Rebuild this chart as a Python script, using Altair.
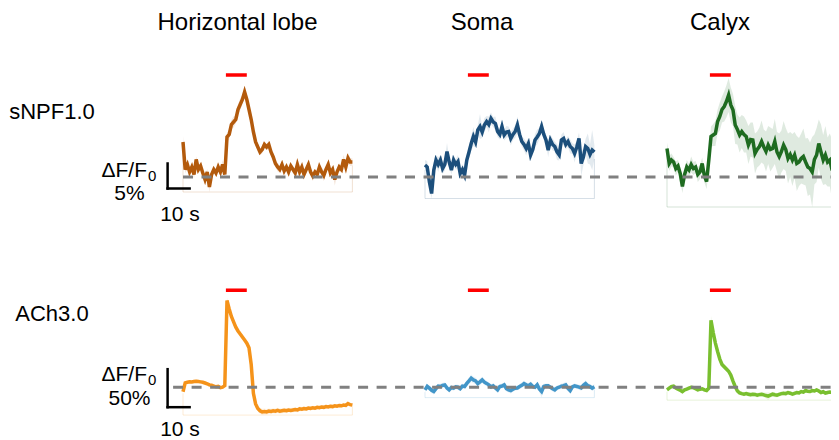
import altair as alt
import pandas as pd

# ---------------- data ----------------
time_s = list(range(78))
stim_on_s, stim_off_s = 19.5, 29.0

row_labels = ["sNPF1.0", "ACh3.0"]
region_labels = ["Horizontal lobe", "Soma", "Calyx"]

hl_snpf_mean = [
    7.0, 1.5, 2.5, 1.0, 2.0, 0.5, 3.5, 1.5, 2.2, 0.8,
    -0.5, 1.0, -2.0, 0.5, 1.5, 0.8, 2.0, 1.0, 2.5, 0.5,
    8.0, 8.5, 10.5, 11.0, 11.5, 13.5, 14.5, 15.5, 17.0, 15.5,
    13.5, 11.5, 9.0, 7.0, 6.0, 5.0, 5.5, 6.5, 6.0, 6.5,
    5.0, 4.0, 2.7, 2.0, 1.5, 2.5, 1.2, 2.0, 1.0, 2.2,
    1.5, 0.8, 2.5, 1.0, 2.0, 0.5, 1.5, 2.5, 1.0, 0.2,
    1.0, 0.5, 2.0, 1.0, 0.3, 1.5, 2.5, 0.8, 1.5, -0.5,
    1.0, 2.0, 1.5, 3.5, 2.0, 3.8, 3.0, 3.0]
hl_snpf_sem = [
    1.2, 0.8, 0.6, 0.7, 0.5, 0.8, 0.6, 0.9, 0.5, 0.7,
    0.8, 0.6, 1.0, 0.7, 0.5, 0.8, 0.6, 0.7, 0.9, 0.6,
    0.8, 1.0, 0.9, 1.1, 0.8, 1.0, 1.2, 0.9, 1.3, 1.0,
    0.9, 1.1, 0.8, 0.7, 0.9, 0.6, 0.8, 0.7, 0.6, 0.9,
    0.7, 0.8, 0.6, 0.9, 0.7, 0.6, 0.8, 0.7, 0.9, 0.6,
    0.7, 0.8, 1.0, 0.6, 0.7, 0.9, 0.6, 0.8, 0.7, 1.0,
    0.6, 0.8, 0.7, 0.9, 1.1, 0.7, 0.6, 0.8, 0.9, 1.2,
    0.7, 0.8, 0.6, 0.9, 0.7, 1.0, 0.8, 0.7]

soma_snpf_mean = [
    2.4, 2.0, -1.0, -3.3, 1.4, 3.4, 2.5, 3.4, 1.7, 2.5,
    5.1, 3.0, 1.4, 3.4, 2.5, 3.1, 0.7, 1.5, 0.4, 3.4,
    5.0, 6.7, 8.1, 7.0, 9.4, 10.1, 9.0, 10.4, 11.1, 10.5,
    11.7, 11.0, 10.7, 9.1, 8.5, 10.1, 8.4, 9.0, 9.1, 7.7,
    8.5, 9.1, 10.4, 8.5, 7.1, 6.5, 5.7, 6.7, 4.4, 5.5,
    7.4, 8.0, 8.7, 10.1, 8.5, 7.4, 5.4, 7.4, 6.5, 6.1,
    5.0, 4.4, 7.4, 7.7, 6.5, 7.1, 6.1, 5.7, 4.7, 6.0,
    7.7, 2.7, 4.0, 6.1, 5.7, 4.5, 5.4, 5.0]
soma_snpf_sem = [
    1.0, 1.2, 1.4, 1.0, 0.8, 1.0, 1.5, 0.9, 1.1, 1.2,
    1.7, 1.0, 0.9, 1.1, 1.0, 1.3, 0.9, 1.1, 1.2, 1.0,
    1.3, 1.5, 1.9, 1.1, 1.0, 2.5, 1.2, 1.4, 1.1, 1.6,
    1.2, 1.0, 1.4, 1.1, 1.0, 1.5, 1.1, 1.2, 1.0, 1.4,
    1.1, 1.3, 1.7, 1.1, 1.0, 1.2, 1.4, 1.1, 1.1, 1.0,
    1.2, 1.5, 1.1, 1.3, 1.0, 1.1, 1.4, 1.1, 1.2, 1.0,
    1.6, 1.1, 1.1, 1.3, 1.0, 1.1, 1.4, 1.1, 1.8, 1.2,
    1.2, 2.5, 1.7, 1.5, 3.0, 2.0, 4.0, 1.4]

calyx_snpf_mean = [
    5.7, 2.7, 3.4, 3.0, 1.7, 2.2, 0.7, -1.9, 0.5, 2.0,
    1.4, 2.5, 1.7, 2.0, 0.5, 1.0, 2.7, 0.2, -0.9, 3.4,
    8.1, 8.4, 8.7, 11.1, 12.1, 13.5, 14.1, 15.1, 16.4, 14.4,
    13.4, 10.4, 9.5, 8.4, 9.1, 8.5, 8.1, 6.4, 7.5, 7.4,
    4.7, 5.5, 6.1, 7.1, 6.0, 5.1, 6.4, 5.5, 5.7, 7.1,
    5.0, 4.1, 5.1, 6.4, 5.5, 3.7, 4.5, 3.4, 4.4, 2.7,
    3.0, 3.7, 4.1, 3.0, 2.0, 1.7, 1.0, 3.5, 4.4, 6.7,
    5.0, 3.4, 4.4, 3.0, 3.4, 1.5, 0.7, 2.7]
calyx_snpf_sem = [
    1.2, 1.5, 1.3, 1.0, 1.4, 1.2, 1.5, 1.3, 1.1, 1.4,
    1.2, 1.6, 1.3, 1.2, 1.5, 1.4, 1.2, 1.3, 1.5, 1.8,
    2.0, 2.2, 2.5, 2.4, 2.8, 2.6, 3.0, 3.2, 3.4, 3.5,
    3.2, 3.8, 3.0, 3.5, 3.3, 3.6, 3.2, 3.8, 3.4, 3.5,
    4.0, 3.6, 3.8, 4.2, 3.5, 4.0, 3.8, 4.4, 3.9, 4.5,
    4.0, 4.6, 4.2, 4.8, 4.3, 5.0, 4.5, 5.2, 4.6, 5.5,
    4.8, 5.0, 5.6, 4.7, 5.8, 5.2, 7.0, 5.0, 5.4, 4.8,
    5.5, 5.0, 5.8, 4.9, 5.3, 6.0, 5.2, 5.5]

hl_ach_mean = [
    -6.0, 5.7, 6.5, 7.0, 6.8, 7.5, 7.9, 7.5, 7.0, 6.5,
    5.5, 4.5, 3.0, 2.5, 1.5, 0.5, 1.0, -0.5, 0.0, 2.0,
    114.0, 103.0, 93.0, 86.0, 79.0, 74.0, 70.0, 66.0, 62.0, 58.0,
    52.0, 30.0, -8.0, -22.0, -28.0, -31.0, -32.5, -32.0, -32.5, -31.5,
    -32.0, -31.0, -31.5, -30.5, -31.5, -31.0, -30.5, -31.0, -30.0, -30.5,
    -30.0, -29.5, -30.0, -28.5, -29.0, -28.0, -28.5, -27.5, -28.0, -27.0,
    -27.5, -26.5, -27.0, -26.0, -26.5, -25.5, -26.0, -25.0, -25.5, -24.5,
    -25.0, -24.0, -24.5, -23.5, -24.0, -21.5, -23.0, -23.5]
hl_ach_sem = [
    2.0, 2.5, 2.0, 2.2, 2.0, 2.4, 2.1, 2.0, 2.3, 2.0,
    2.2, 2.0, 2.4, 2.1, 2.0, 2.3, 2.0, 2.2, 2.0, 2.5,
    4.0, 3.5, 3.2, 3.0, 3.0, 2.8, 2.8, 2.6, 2.6, 2.5,
    2.8, 3.5, 3.0, 3.2, 3.5, 3.8, 4.2, 4.0, 3.8, 3.6,
    3.5, 3.4, 3.5, 3.3, 3.4, 3.2, 3.3, 3.2, 3.0, 3.1,
    3.0, 3.1, 2.9, 3.0, 2.8, 2.9, 2.8, 2.7, 2.8, 2.6,
    2.7, 2.6, 2.5, 2.6, 2.5, 2.6, 2.4, 2.5, 2.4, 2.5,
    2.4, 2.3, 2.4, 2.3, 2.4, 2.5, 2.3, 2.4]

soma_ach_mean = [
    -3.5, 1.0, -1.3, -4.0, -5.7, -2.0, 1.5, 0.9, 2.5, 3.1,
    -1.0, -3.5, -0.5, -1.3, 0.5, 0.0, -2.0, 1.5, 0.9, 5.0,
    8.3, 11.8, 9.5, 8.3, 4.8, 7.0, 9.6, 6.6, 5.0, 3.1,
    0.5, 1.8, -1.0, -3.5, 0.9, 1.5, 3.1, -2.0, -3.5, -4.4,
    -2.6, -1.3, -1.0, 0.9, 2.5, 4.8, 3.1, 2.0, 3.9, 1.0,
    0.0, 3.1, -2.5, -5.7, 0.9, 1.8, 1.8, 0.0, -2.0, -3.5,
    -1.0, 0.0, 1.5, 2.0, 3.1, -1.5, -4.4, 0.5, 1.8, 1.0,
    0.0, -1.0, 2.5, 4.8, 2.0, 0.9, -1.3, 0.5]
soma_ach_sem = [
    3.0, 3.5, 3.2, 3.8, 4.0, 3.4, 3.0, 3.6, 3.2, 3.5,
    3.3, 3.8, 3.1, 3.4, 3.0, 3.6, 3.2, 3.5, 3.0, 4.0,
    4.5, 5.0, 4.2, 4.4, 4.0, 4.6, 4.2, 3.8, 3.6, 3.5,
    3.4, 3.6, 3.2, 3.8, 3.3, 3.5, 3.0, 3.6, 3.4, 3.8,
    3.2, 3.5, 3.0, 3.4, 3.6, 4.0, 3.5, 3.2, 3.8, 3.4,
    3.0, 3.6, 4.5, 8.0, 3.5, 3.2, 3.4, 3.0, 3.6, 3.8,
    3.2, 3.0, 3.4, 3.6, 4.0, 3.5, 4.2, 3.2, 3.5, 3.0,
    3.4, 3.6, 3.8, 4.5, 3.5, 3.2, 3.6, 3.4]

calyx_ach_mean = [
    -3.5, -1.3, 0.9, 1.5, -1.0, -2.6, -4.0, -5.7, -3.5, -2.6,
    -1.3, 0.0, -0.5, -2.0, -3.5, -2.6, -2.0, -3.5, -4.4, -1.3,
    88.0, 72.0, 58.0, 47.0, 37.0, 30.0, 27.0, 24.0, 21.0, 16.0,
    8.0, 1.0, -5.0, -7.5, -8.5, -9.2, -8.5, -9.2, -10.0, -9.2,
    -9.5, -10.5, -9.8, -9.2, -10.0, -11.0, -11.8, -10.5, -9.2, -10.0,
    -10.5, -9.5, -8.5, -7.9, -8.5, -7.0, -7.9, -9.2, -8.0, -7.0,
    -7.5, -5.7, -6.5, -4.4, -5.5, -5.7, -4.5, -5.0, -3.5, -5.0,
    -7.0, -6.0, -7.9, -7.0, -6.5, -7.0, -7.9, -7.5]
calyx_ach_sem = [
    2.5, 2.8, 2.4, 2.6, 2.5, 2.7, 2.4, 2.8, 2.5, 2.6,
    2.4, 2.7, 2.5, 2.6, 2.4, 2.8, 2.5, 2.6, 2.4, 3.0,
    6.0, 5.0, 4.5, 4.2, 4.0, 3.8, 3.6, 3.5, 3.4, 3.2,
    3.0, 3.0, 2.8, 2.8, 2.7, 2.8, 2.6, 2.8, 3.0, 2.8,
    3.0, 3.2, 3.0, 2.9, 3.2, 4.0, 5.2, 3.4, 3.0, 3.2,
    3.0, 2.9, 2.8, 2.7, 2.8, 2.6, 2.7, 2.8, 2.6, 2.5,
    2.6, 2.5, 2.4, 2.5, 2.4, 2.5, 2.4, 2.3, 2.4, 2.3,
    2.4, 2.3, 2.5, 2.4, 2.3, 2.4, 2.3, 2.4]

traces = [
    [(hl_snpf_mean, hl_snpf_sem), (soma_snpf_mean, soma_snpf_sem), (calyx_snpf_mean, calyx_snpf_sem)],
    [(hl_ach_mean, hl_ach_sem), (soma_ach_mean, soma_ach_sem), (calyx_ach_mean, calyx_ach_sem)],
]
trace_colors = [
    ["#b35a0c", "#1c4f7c", "#1e6b20"],
    ["#f5931a", "#4296c9", "#79bf2f"],
]
band_opacity = [[0.15, 0.12, 0.14], [0.12, 0.12, 0.12]]
scale_bar_pct = [5, 50]     # vertical scale bar length (%)
scale_bar_s = 10            # horizontal scale bar length (s)

# ---------------- layout / style ----------------
FONT = "Liberation Sans"
X_DOMAIN = [-10, 80]
PANEL_W = 198
COL_SPACING = 44
ROW_SPACING = 60
PX_PER_S = PANEL_W / (X_DOMAIN[1] - X_DOMAIN[0])
COL_SHIFT_S = (PANEL_W + COL_SPACING) / PX_PER_S
y_domains = [[-8, 22], [-55, 145]]
panel_h = [150, 152]
stim_level = [20.4, 127.6]
scale_bar_bottom = [-2.3, -26.3]
scale_bar_t = -7.0
dash_start_t = [0.0, -4.5]
PAD_LEFT, PAD_TOP = 153, 59
PAGE_W, PAGE_H = 823, 432


def make_panel(r, c):
    mean, sem = traces[r][c]
    color = trace_colors[r][c]
    n = min(len(time_s), len(mean), len(sem))
    t = time_s[:n]
    lo = [m - s for m, s in zip(mean[:n], sem[:n])]
    hi = [m + s for m, s in zip(mean[:n], sem[:n])]
    df = pd.DataFrame({"t": t, "mean": mean[:n], "lo": lo, "hi": hi})

    xs = alt.Scale(domain=X_DOMAIN, nice=False, zero=False)
    ys = alt.Scale(domain=y_domains[r], nice=False, zero=False)

    def X(f):
        return alt.X(f, type="quantitative", scale=xs, axis=None)

    def Y(f):
        return alt.Y(f, type="quantitative", scale=ys, axis=None)

    layers = []
    layers.append(alt.Chart(df).mark_area(color=color, opacity=band_opacity[r][c]).encode(
        x=X("t"), y=Y("lo"), y2=alt.Y2("hi")))

    bottom = min(lo)
    outline = pd.DataFrame({"t": [t[0], t[0], t[-1], t[-1]],
                            "v": [lo[0], bottom, bottom, lo[-1]],
                            "o": [0, 1, 2, 3]})
    layers.append(alt.Chart(outline).mark_line(color=color, opacity=0.18, strokeWidth=1).encode(
        x=X("t"), y=Y("v"), order=alt.Order("o:Q")))

    layers.append(alt.Chart(df).mark_line(color=color, strokeWidth=3.5).encode(
        x=X("t"), y=Y("mean")))

    stim = pd.DataFrame({"on": [stim_on_s], "off": [stim_off_s], "lvl": [stim_level[r]]})
    layers.append(alt.Chart(stim).mark_rule(color="#ff0000", strokeWidth=3.5).encode(
        x=X("on"), x2=alt.X2("off"), y=Y("lvl")))

    if c == 2:
        # baseline dashed line spanning the whole row, drawn last so it sits on top
        dash = pd.DataFrame({"a": [dash_start_t[r] - 2 * COL_SHIFT_S], "b": [X_DOMAIN[1] + 10], "z": [0.0]})
        layers.append(alt.Chart(dash).mark_rule(color="#808080", strokeWidth=3,
                                                strokeDash=[10, 8.5]).encode(
            x=X("a"), x2=alt.X2("b"), y=Y("z")))

    if c == 0:
        vb = pd.DataFrame({"t": [scale_bar_t], "b": [scale_bar_bottom[r]],
                           "tp": [scale_bar_bottom[r] + scale_bar_pct[r]]})
        layers.append(alt.Chart(vb).mark_rule(color="black", strokeWidth=2.5, strokeCap="square").encode(
            x=X("t"), y=Y("b"), y2=alt.Y2("tp")))
        hb = pd.DataFrame({"t": [scale_bar_t], "t2": [scale_bar_t + scale_bar_s], "b": [scale_bar_bottom[r]]})
        layers.append(alt.Chart(hb).mark_rule(color="black", strokeWidth=2.5, strokeCap="square").encode(
            x=X("t"), x2=alt.X2("t2"), y=Y("b")))

        base_y = [110, 104][r]
        texts = [
            (row_labels[r], -109, [52, 44][r], 22, "center"),
            ("\u0394F/F", -14, base_y, 21, "right"),
            ("5%" if r == 0 else "50%", -31.5, [133, 128][r], 21, "center"),
            ("10 s", 19, [154, 159][r], 21, "center"),
        ]
        for txt, px, py, fs, al in texts:
            layers.append(alt.Chart(pd.DataFrame({"s": [txt]})).mark_text(
                font=FONT, fontSize=fs, align=al, baseline="alphabetic", color="black").encode(
                text="s:N", x=alt.value(px), y=alt.value(py)))
        layers.append(alt.Chart(pd.DataFrame({"s": ["0"]})).mark_text(
            font=FONT, fontSize=15, align="left", baseline="alphabetic", color="black").encode(
            text="s:N", x=alt.value(-13), y=alt.value(base_y + 4)))

    if r == 0:
        title_x = [76.5, 79, 75][c]
        layers.append(alt.Chart(pd.DataFrame({"s": [region_labels[c]]})).mark_text(
            font=FONT, fontSize=24, align="center", baseline="alphabetic", color="black").encode(
            text="s:N", x=alt.value(title_x), y=alt.value(-37)))

    return alt.layer(*layers).properties(width=PANEL_W, height=panel_h[r])


panels = [make_panel(r, c) for r in range(2) for c in range(3)]

chart = alt.concat(
    *panels, columns=3, spacing={"row": ROW_SPACING, "column": COL_SPACING}, bounds="flush",
    autosize=alt.AutoSizeParams(type="none"),
    padding={"left": PAD_LEFT, "top": PAD_TOP, "right": PAGE_W - PAD_LEFT, "bottom": PAGE_H - PAD_TOP},
).configure_view(stroke=None)

chart.save("out.html", embed_options={"renderer": "svg", "actions": False})
